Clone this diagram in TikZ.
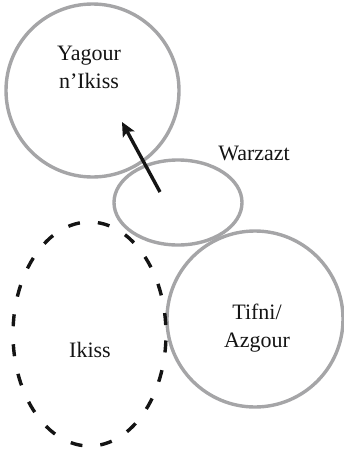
\documentclass[tikz,border=0pt]{standalone}
\usepackage{fontspec}
\setmainfont{Liberation Serif}
\usetikzlibrary{shapes.geometric,arrows.meta}
\definecolor{ringgray}{RGB}{165,165,167}
\definecolor{inkblack}{RGB}{20,20,20}
\tikzset{
  ring/.style={draw=ringgray, line width=3.4pt, inner sep=0pt, outer sep=0pt},
  dashring/.style={draw=inkblack, line width=3.4pt, dash pattern=on 12pt off 18pt, dash phase=21pt, inner sep=0pt, outer sep=0pt},
  lbl/.style={font=\fontsize{22}{28}\selectfont, text=inkblack, align=center, inner sep=0pt},
  move/.style={draw=inkblack, line width=3.4pt, -{Stealth[length=14pt,width=13pt,inset=3pt]}}
}
\begin{document}
\begin{tikzpicture}[x=1pt,y=-1pt]
\useasboundingbox (0,0) rectangle (343,452);
\node[ring, circle, minimum size=173pt] (yagour) at (92.5,90.5) {};
\node[ring, ellipse, minimum width=128pt, minimum height=85pt] (warzazt) at (178,202.5) {};
\node[ring, circle, minimum size=176pt] (tifni) at (255,319) {};
\node[dashring, ellipse, minimum width=153pt, minimum height=224pt] (ikiss) at (89.5,334) {};
\node[lbl] (lyagour) at (89,67) {Yagour\\n’Ikiss};
\node[lbl] (lwarzazt) at (254,153) {Warzazt};
\node[lbl] (ltifni) at (257,328) {Tifni/\\Azgour};
\node[lbl] (likiss) at (90,350) {Ikiss};
\coordinate (from) at (160,192);
\coordinate (to) at (122,122);
\draw[move] (from) -- (to);
\end{tikzpicture}
\end{document}
